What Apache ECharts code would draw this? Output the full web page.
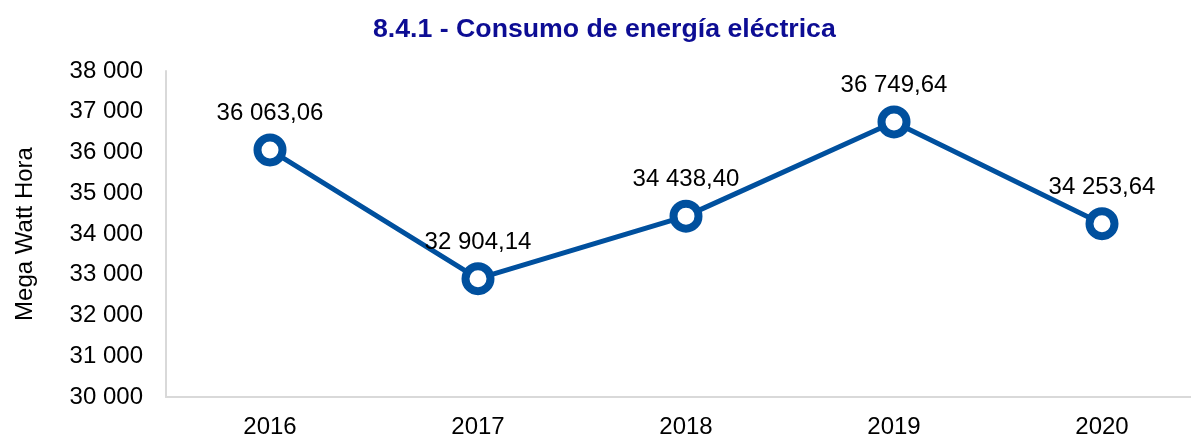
<!DOCTYPE html>
<html>
<head>
    <meta charset="UTF-8">
    <title>Consumo de energía eléctrica</title>
    <script type="text/javascript" src="https://cdn.jsdelivr.net/npm/echarts@6/dist/echarts.min.js"></script>
    <style>
        html, body { margin: 0; padding: 0; background: #fff; overflow: hidden; }
    </style>
</head>
<body>
    <div id="main" style="width: 1191px;height:436px;"></div>
    <script type="text/javascript">
var years = ['2016', '2017', '2018', '2019', '2020'];
var consumo = [36063.06, 32904.14, 34438.40, 36749.64, 34253.64];
var yTicks = [30000, 31000, 32000, 33000, 34000, 35000, 36000, 37000, 38000];

// 36 063,06 style
function fmtNum(v, dec) {
  var s = v.toFixed(dec);
  var parts = s.split('.');
  var ent = parts[0].replace(/\B(?=(\d{3})+(?!\d))/g, ' ');
  return parts.length > 1 ? ent + ',' + parts[1] : ent;
}

var myChart = echarts.init(document.getElementById('main'));

var option = {
  backgroundColor: '#fff',
  animation: false,
  textStyle: { fontFamily: 'Liberation Sans, Arial, sans-serif' },
  title: {
    text: '8.4.1 - Consumo de energía eléctrica',
    left: 368,
    top: 11,
    textStyle: {
      color: '#0d0d94',
      fontSize: 26.7,
      fontWeight: 'bold',
      fontFamily: 'Liberation Sans, Arial, sans-serif'
    }
  },
  grid: {
    left: 166,
    right: -15,   // last band runs past the right edge, as in the source
    top: 71,
    bottom: 39,
    containLabel: false,
    outerBoundsMode: 'none'
  },
  xAxis: {
    type: 'category',
    data: years,
    boundaryGap: true,
    axisLine: { lineStyle: { color: '#d9d9d9', width: 2 } },
    axisTick: { show: false },
    axisLabel: { color: '#000', fontSize: 24, margin: 18 },
    splitLine: { show: false }
  },
  yAxis: {
    type: 'value',
    min: yTicks[0],
    max: yTicks[yTicks.length - 1],
    interval: 1000,
    name: 'Mega Watt Hora',
    nameLocation: 'middle',
    nameGap: 129,
    nameTextStyle: { color: '#000', fontSize: 24 },
    axisLine: { show: true, lineStyle: { color: '#d9d9d9', width: 2 } },
    axisTick: { show: false },
    axisLabel: {
      color: '#000',
      fontSize: 24,
      margin: 23,
      formatter: function (v) { return fmtNum(v, 0); }
    },
    splitLine: { show: false }
  },
  series: [
    {
      type: 'line',
      data: consumo,
      symbol: 'circle',
      symbolSize: 25,
      lineStyle: { color: '#00509e', width: 5 },
      itemStyle: { color: '#fff', borderColor: '#00509e', borderWidth: 8 },
      label: {
        show: true,
        position: 'top',
        distance: 8,
        color: '#000',
        fontSize: 24,
        formatter: function (p) { return fmtNum(p.value, 2); }
      }
    }
  ]
};

myChart.setOption(option);
    </script>
</body>
</html>
